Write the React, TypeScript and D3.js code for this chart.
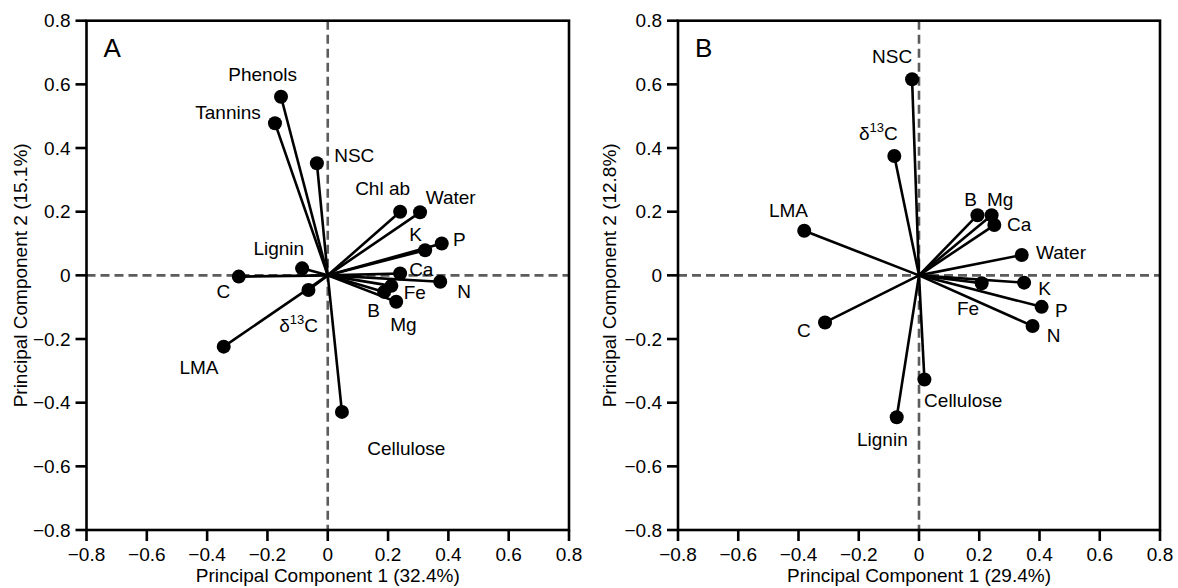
import React from "react";
import * as d3 from "d3";

// ---- Data ----
const namesA = ["Phenols", "Tannins", "NSC", "Chl ab", "Water", "K", "P", "Lignin", "Ca", "N", "Fe", "C", "B", "Mg", "d13C", "LMA", "Cellulose"];
const pc1A = [-0.155, -0.175, -0.036, 0.24, 0.306, 0.323, 0.378, -0.085, 0.24, 0.373, 0.211, -0.295, 0.187, 0.227, -0.064, -0.345, 0.047];
const pc2A = [0.561, 0.478, 0.352, 0.2, 0.198, 0.079, 0.1, 0.022, 0.006, -0.02, -0.033, -0.004, -0.052, -0.083, -0.046, -0.224, -0.429];

const namesB = ["NSC", "d13C", "LMA", "B", "Mg", "Ca", "Water", "K", "Fe", "P", "N", "C", "Cellulose", "Lignin"];
const pc1B = [-0.023, -0.082, -0.381, 0.194, 0.241, 0.25, 0.341, 0.349, 0.208, 0.407, 0.377, -0.312, 0.018, -0.074];
const pc2B = [0.616, 0.375, 0.14, 0.189, 0.189, 0.158, 0.064, -0.023, -0.025, -0.099, -0.159, -0.148, -0.327, -0.446];

const ticks = [-0.8, -0.6, -0.4, -0.2, 0, 0.2, 0.4, 0.6, 0.8];
const tickLabels = ["\u22120.8", "\u22120.6", "\u22120.4", "\u22120.2", "0", "0.2", "0.4", "0.6", "0.8"];

const xTitleA = "Principal Component 1 (32.4%)";
const yTitleA = "Principal Component 2 (15.1%)";
const xTitleB = "Principal Component 1 (29.4%)";
const yTitleB = "Principal Component 2 (12.8%)";

// ---- Layout (label offsets in px from point) ----
const labelOffsetA: Record<string, [number, number]> = {
  Phenols: [-52.7, -16], Tannins: [-79.7, -4.3], NSC: [17.3, -1.6], "Chl ab": [-45, -16.7],
  Water: [5.7, -8.3], K: [-16, -9.3], P: [11.3, 2.4], Lignin: [-48.7, -13.3], Ca: [9, 2.7],
  N: [17, 16.3], Fe: [12.3, 13], C: [-22.3, 21.3], B: [-17, 25.3], Mg: [-6, 29.3],
  d13C: [-29.3, 41.7], LMA: [-44.3, 27.3], Cellulose: [25.3, 43.3],
};
const labelOffsetB: Record<string, [number, number]> = {
  NSC: [-40, -16], d13C: [-35.3, -16], LMA: [-35.3, -14], B: [-13.3, -9], Mg: [-4.7, -9],
  Ca: [12.7, 5.7], Water: [14.3, 4.3], K: [14, 12.3], Fe: [-24.7, 31.7], P: [13.3, 10],
  N: [14.3, 15.7], C: [-28, 15], Cellulose: [-0.3, 27.4], Lignin: [-39.7, 28.4],
};

const FONT = "'Liberation Sans', Arial, Helvetica, sans-serif";
const FS = 19;

function Label({ name, x, y }: { name: string; x: number; y: number }) {
  if (name === "d13C") {
    return (
      <text x={x} y={y} fontSize={FS} fontFamily={FONT} fill="#000">
        <tspan>δ</tspan>
        <tspan fontSize={13} dy={-8}>13</tspan>
        <tspan dy={8}>C</tspan>
      </text>
    );
  }
  return (
    <text x={x} y={y} fontSize={FS} fontFamily={FONT} fill="#000">
      {name}
    </text>
  );
}

function Panel(props: {
  left: number; right: number; top: number; bottom: number;
  names: string[]; pc1: number[]; pc2: number[]; offsets: Record<string, [number, number]>;
  letter: string; xTitle: string; yTitle: string; yTitleX: number;
}) {
  const { left, right, top, bottom, names, pc1, pc2, offsets, letter, xTitle, yTitle, yTitleX } = props;
  const x = d3.scaleLinear().domain([-0.8, 0.8]).range([left, right]);
  const y = d3.scaleLinear().domain([-0.8, 0.8]).range([bottom, top]);
  const x0 = x(0), y0 = y(0);
  const sw = 2.6;
  const tickLen = 11;
  return (
    <g>
      {/* dashed zero lines */}
      <line x1={left} x2={right} y1={y0} y2={y0} stroke="#5c5c5c" strokeWidth={2.6} strokeDasharray="9,5" />
      <line x1={x0} x2={x0} y1={top} y2={bottom} stroke="#5c5c5c" strokeWidth={2.6} strokeDasharray="9,5" />
      {/* vectors */}
      {names.map((n, i) => (
        <line key={"l" + n} x1={x0} y1={y0} x2={x(pc1[i])} y2={y(pc2[i])} stroke="#000" strokeWidth={2.6} />
      ))}
      {names.map((n, i) => (
        <circle key={"c" + n} cx={x(pc1[i])} cy={y(pc2[i])} r={7} fill="#000" />
      ))}
      {names.map((n, i) => (
        <Label key={"t" + n} name={n} x={x(pc1[i]) + offsets[n][0]} y={y(pc2[i]) + offsets[n][1]} />
      ))}
      {/* frame */}
      <rect x={left} y={top} width={right - left} height={bottom - top} fill="none" stroke="#000" strokeWidth={sw} />
      {/* ticks */}
      {ticks.map((t, i) => (
        <g key={"xt" + i}>
          <line x1={x(t)} x2={x(t)} y1={bottom} y2={bottom + tickLen} stroke="#000" strokeWidth={sw} />
          <text x={x(t)} y={bottom + 31} textAnchor="middle" fontSize={FS} fontFamily={FONT}>{tickLabels[i]}</text>
        </g>
      ))}
      {ticks.map((t, i) => (
        <g key={"yt" + i}>
          <line x1={left - tickLen} x2={left} y1={y(t)} y2={y(t)} stroke="#000" strokeWidth={sw} />
          <text x={left - 16} y={y(t)} dy="0.35em" textAnchor="end" fontSize={FS} fontFamily={FONT}>{tickLabels[i]}</text>
        </g>
      ))}
      {/* titles */}
      <text x={(left + right) / 2} y={582} textAnchor="middle" fontSize={FS} fontFamily={FONT}>{xTitle}</text>
      <text transform={`translate(${yTitleX},${(top + bottom) / 2}) rotate(-90)`} textAnchor="middle" fontSize={FS} fontFamily={FONT}>{yTitle}</text>
      <text x={left + 17} y={57} fontSize={26} fontFamily={FONT}>{letter}</text>
    </g>
  );
}

export default function App() {
  return (
    <div style={{ position: "absolute", left: 0, top: 0 }}>
      <svg width={1178} height={588} style={{ display: "block", background: "#fff" }}>
        <Panel left={86.5} right={569} top={20.7} bottom={530} names={namesA} pc1={pc1A} pc2={pc2A}
          offsets={labelOffsetA} letter="A" xTitle={xTitleA} yTitle={yTitleA} yTitleX={27} />
        <Panel left={678} right={1160} top={20.7} bottom={530} names={namesB} pc1={pc1B} pc2={pc2B}
          offsets={labelOffsetB} letter="B" xTitle={xTitleB} yTitle={yTitleB} yTitleX={616} />
      </svg>
    </div>
  );
}
